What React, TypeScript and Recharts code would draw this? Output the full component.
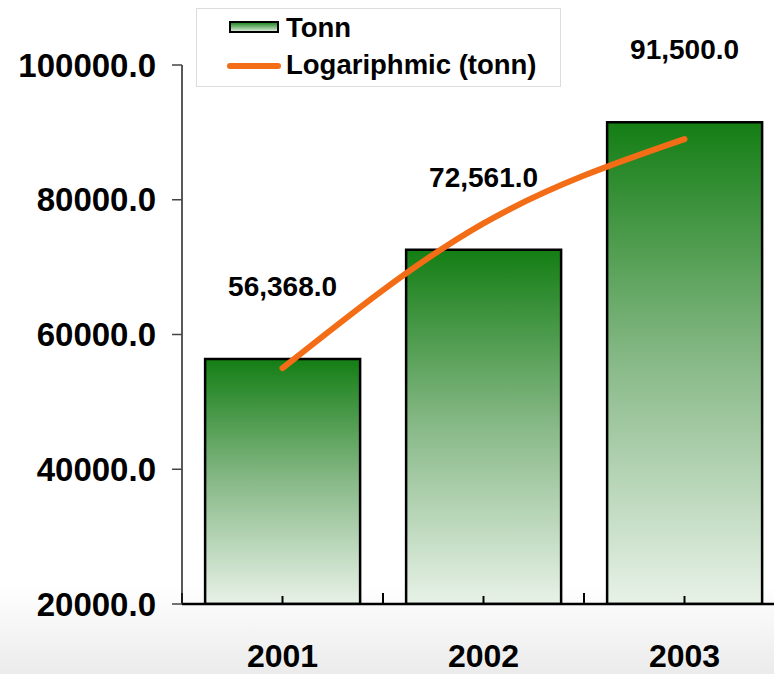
import { Bar, BarChart, LabelList, Legend, Line, ReferenceLine, XAxis, YAxis } from 'recharts'

const years = ['2001', '2002', '2003']
const tonn = [56368, 72561, 91500]
const trend = [55000, 76500, 89000]
const yTicks = [20000, 40000, 60000, 80000, 100000]

const GREEN_TOP = '#147e14'
const GREEN_BOTTOM = '#e8f2e8'
const ORANGE = '#f36c16'
const FONT = '"Liberation Sans", Arial, sans-serif'

const data = years.map((y, i) => ({ year: y, tonn: tonn[i], trend: trend[i] }))

function CatTick(props: any) {
  const { x, y, payload } = props
  return (
    <g>
      <line x1={x} x2={x} y1={y} y2={y - 8} stroke="#000" strokeWidth={2} />
      <text x={x} y={y + 52} dy="0.355em" textAnchor="middle" fontSize={32} fontWeight="bold" fill="#000">
        {payload.value}
      </text>
    </g>
  )
}

// only the bottom few pixels of a reference line: the tick at a band edge
function EdgeTick(props: any) {
  const { x1, y1, y2 } = props
  const bottom = Math.max(Number(y1), Number(y2))
  if (!Number.isFinite(bottom) || !Number.isFinite(Number(x1))) return <g />
  return <line x1={x1} x2={x1} y1={bottom} y2={bottom - 11} stroke="#000" strokeWidth={2} />
}

function LegendBox() {
  return (
    <div
      style={{
        position: 'relative',
        width: 365,
        height: 79,
        boxSizing: 'border-box',
        border: '1px solid #dcdcdc',
        background: '#fff',
        fontFamily: FONT,
        fontWeight: 'bold',
        fontSize: 27.5,
        color: '#000',
      }}
    >
      <svg width={52} height={14} style={{ position: 'absolute', left: 32, top: 12 }}>
        <defs>
          <linearGradient id="legGrad" x1="0" y1="0" x2="0" y2="1">
            <stop offset="0" stopColor={GREEN_TOP} />
            <stop offset="1" stopColor={GREEN_BOTTOM} />
          </linearGradient>
        </defs>
        <rect x={1} y={1} width={48} height={10} fill="url(#legGrad)" stroke="#000" strokeWidth={2} />
      </svg>
      <div style={{ position: 'absolute', left: 89, top: 4, lineHeight: '30px' }}>Tonn</div>
      <svg width={56} height={10} style={{ position: 'absolute', left: 30, top: 52 }}>
        <line x1={3} x2={51} y1={5} y2={5} stroke={ORANGE} strokeWidth={6} strokeLinecap="round" />
      </svg>
      <div style={{ position: 'absolute', left: 89, top: 41, lineHeight: '30px' }}>Logariphmic (tonn)</div>
    </div>
  )
}

export default function App() {
  return (
    <div
      style={{
        position: 'fixed',
        left: 0,
        top: 0,
        width: 774,
        height: 674,
        overflow: 'hidden',
        background: 'linear-gradient(to bottom, #ffffff 0px, #ffffff 585px, #ebebeb 674px)',
        fontFamily: FONT,
      }}
    >
      <BarChart
        width={800}
        height={674}
        data={data}
        margin={{ top: 65, right: 15, bottom: 0, left: 0 }}
        barCategoryGap="11.5%"
      >
        <defs>
          <linearGradient id="barGrad" x1="0" y1="0" x2="0" y2="1">
            <stop offset="0" stopColor={GREEN_TOP} />
            <stop offset="0.5" stopColor="#88b988" />
            <stop offset="1" stopColor={GREEN_BOTTOM} />
          </linearGradient>
        </defs>
        <XAxis
          dataKey="year"
          height={70}
          axisLine={{ stroke: '#000', strokeWidth: 2.5 }}
          tickLine={false}
          tickSize={0}
          tickMargin={0}
          tick={<CatTick />}
          interval={0}
        />
        <YAxis
          width={182}
          domain={[20000, 100000]}
          ticks={yTicks}
          allowDataOverflow
          axisLine={{ stroke: '#222', strokeWidth: 1.5 }}
          tickLine={{ stroke: '#444', strokeWidth: 1.5 }}
          tickSize={10}
          tickMargin={16}
          tick={{ fontSize: 33, fontWeight: 'bold', fill: '#000' }}
          tickFormatter={(v: number) => v.toFixed(1)}
        />
        <Legend
          layout="horizontal"
          verticalAlign="middle"
          wrapperStyle={{ top: 8, left: 196, width: 365, height: 79 }}
          content={() => <LegendBox />}
        />
        {years.map((y) => (
          <ReferenceLine key={y} x={y} position="start" stroke="#000" shape={<EdgeTick />} />
        ))}
        <Bar dataKey="tonn" fill="url(#barGrad)" stroke="#000" strokeWidth={2.5} isAnimationActive={false}>
          <LabelList
            dataKey="tonn"
            position="top"
            offset={63}
            fontSize={28}
            fontWeight="bold"
            fill="#000"
            formatter={(v: any) => Number(v).toLocaleString('en-US', { minimumFractionDigits: 1 })}
          />
        </Bar>
        <Line
          dataKey="trend"
          type="natural"
          stroke={ORANGE}
          strokeWidth={6}
          strokeLinecap="round"
          dot={false}
          activeDot={false}
          isAnimationActive={false}
        />
      </BarChart>
    </div>
  )
}
